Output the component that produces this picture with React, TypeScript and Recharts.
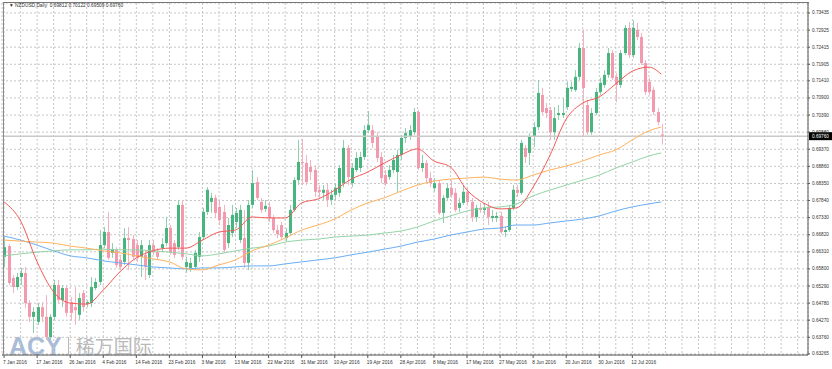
import React from 'react';
import { ComposedChart, Bar, Line, XAxis, YAxis, CartesianGrid, ReferenceLine } from 'recharts';

// NZDUSD daily candles (bar index 0 = 7 Jan 2016)
const opens = [
  0.6616, 0.6648, 0.6553, 0.6526, 0.6556, 0.6568, 0.6478, 0.6437, 0.6422, 0.6466,
  0.6437, 0.6377, 0.6437, 0.6532, 0.6487, 0.6523, 0.6481, 0.6466, 0.6443, 0.6508,
  0.6476, 0.6478, 0.6523, 0.6541, 0.6651, 0.6690, 0.6628, 0.6637, 0.6607, 0.6601,
  0.6672, 0.6669, 0.6651, 0.6616, 0.6622, 0.6562, 0.6651, 0.6630, 0.6642, 0.6657,
  0.6702, 0.6657, 0.6645, 0.6771, 0.6586, 0.6583, 0.6586, 0.6616, 0.6675, 0.6750,
  0.6780, 0.6792, 0.6765, 0.6750, 0.6657, 0.6687, 0.6720, 0.6666, 0.6672, 0.6598,
  0.6771, 0.6839, 0.6780, 0.6759, 0.6765, 0.6732, 0.6696, 0.6711, 0.6672, 0.6687,
  0.6756, 0.6845, 0.6899, 0.6896, 0.6884, 0.6875, 0.6816, 0.6807, 0.6816, 0.6786,
  0.6801, 0.6807, 0.6836, 0.6941, 0.6836, 0.6875, 0.6881, 0.6914, 0.6994, 0.6994,
  0.6974, 0.6914, 0.6860, 0.6854, 0.6875, 0.6869, 0.6920, 0.6971, 0.6974, 0.6988,
  0.7048, 0.6881, 0.6896, 0.6851, 0.6821, 0.6836, 0.6747, 0.6792, 0.6821, 0.6807,
  0.6762, 0.6777, 0.6810, 0.6780, 0.6735, 0.6762, 0.6756, 0.6765, 0.6732, 0.6732,
  0.6738, 0.6690, 0.6696, 0.6762, 0.6816, 0.6807, 0.6941, 0.6926, 0.6974, 0.7003,
  0.7099, 0.7060, 0.7054, 0.6988, 0.7039, 0.7039, 0.7063, 0.7117, 0.7114, 0.7153,
  0.7239, 0.7069, 0.6988, 0.7045, 0.7108, 0.7129, 0.7159, 0.7224, 0.7153, 0.7129,
  0.7224, 0.7299, 0.7218, 0.7293, 0.7272, 0.7194, 0.7138, 0.7114, 0.7048, 0.69812,
];
const highs = [
  0.6675, 0.6654, 0.6562, 0.6568, 0.6583, 0.6586, 0.6487, 0.6466, 0.6478, 0.6481,
  0.6502, 0.6445, 0.6547, 0.6547, 0.6532, 0.6532, 0.6496, 0.6526, 0.6508, 0.6517,
  0.6487, 0.6556, 0.6553, 0.6696, 0.6705, 0.6750, 0.6657, 0.6645, 0.6622, 0.6702,
  0.6705, 0.6681, 0.6666, 0.6666, 0.6636, 0.6666, 0.6666, 0.6642, 0.6672, 0.6735,
  0.6711, 0.6666, 0.6786, 0.6786, 0.6616, 0.6613, 0.6637, 0.6690, 0.6762, 0.6824,
  0.6807, 0.6801, 0.6786, 0.6771, 0.6732, 0.6771, 0.6762, 0.6771, 0.6756, 0.6786,
  0.6875, 0.6854, 0.6792, 0.6786, 0.6780, 0.6741, 0.6711, 0.6720, 0.6702, 0.6771,
  0.6854, 0.6965, 0.6968, 0.6920, 0.6905, 0.6890, 0.6830, 0.6830, 0.6836, 0.6816,
  0.6836, 0.6890, 0.6965, 0.6950, 0.6896, 0.6929, 0.6929, 0.7009, 0.7051, 0.7009,
  0.6988, 0.6929, 0.6875, 0.6890, 0.6920, 0.6935, 0.6980, 0.7000, 0.7009, 0.7060,
  0.7054, 0.6920, 0.6905, 0.6869, 0.6851, 0.6845, 0.6801, 0.6836, 0.6845, 0.6821,
  0.6792, 0.6830, 0.6824, 0.6792, 0.6771, 0.6777, 0.6777, 0.6780, 0.6756, 0.6750,
  0.6750, 0.6705, 0.6771, 0.6830, 0.6830, 0.6965, 0.6950, 0.6985, 0.7018, 0.7144,
  0.7120, 0.7075, 0.7063, 0.7063, 0.7069, 0.7090, 0.7138, 0.7138, 0.7173, 0.7254,
  0.7293, 0.7084, 0.7060, 0.7120, 0.7150, 0.7173, 0.7239, 0.7233, 0.7164, 0.7233,
  0.7308, 0.7317, 0.7322, 0.7314, 0.7284, 0.7203, 0.7150, 0.7123, 0.7060, 0.70122,
];
const lows = [
  0.6586, 0.6532, 0.6508, 0.6517, 0.6532, 0.6463, 0.6422, 0.6389, 0.6413, 0.6422,
  0.6368, 0.6368, 0.6428, 0.6478, 0.6466, 0.6437, 0.6428, 0.6413, 0.6428, 0.6452,
  0.6466, 0.6466, 0.6517, 0.6532, 0.6642, 0.6607, 0.6613, 0.6583, 0.6577, 0.6592,
  0.6577, 0.6607, 0.6601, 0.6556, 0.6547, 0.6553, 0.6622, 0.6607, 0.6630, 0.6648,
  0.6622, 0.6613, 0.6637, 0.6607, 0.6568, 0.6571, 0.6577, 0.6601, 0.6666, 0.6741,
  0.6747, 0.6732, 0.6711, 0.6628, 0.6642, 0.6675, 0.6702, 0.6657, 0.6583, 0.6577,
  0.6762, 0.6786, 0.6747, 0.6750, 0.6720, 0.6687, 0.6672, 0.6666, 0.6663, 0.6678,
  0.6750, 0.6830, 0.6830, 0.6830, 0.6845, 0.6795, 0.6792, 0.6786, 0.6765, 0.6771,
  0.6786, 0.6795, 0.6824, 0.6830, 0.6824, 0.6869, 0.6869, 0.6905, 0.6985, 0.6941,
  0.6899, 0.6836, 0.6827, 0.6845, 0.6866, 0.6810, 0.6905, 0.6956, 0.6965, 0.6980,
  0.6875, 0.6869, 0.6839, 0.6824, 0.6810, 0.6741, 0.6717, 0.6786, 0.6792, 0.6750,
  0.6750, 0.6771, 0.6768, 0.6720, 0.6720, 0.6747, 0.6741, 0.6711, 0.6720, 0.6720,
  0.6684, 0.6675, 0.6690, 0.6756, 0.6795, 0.6801, 0.6896, 0.6890, 0.6944, 0.6994,
  0.7039, 0.7030, 0.6965, 0.6965, 0.7024, 0.7030, 0.7054, 0.7108, 0.7108, 0.7144,
  0.6974, 0.6980, 0.6980, 0.7039, 0.7099, 0.7120, 0.7150, 0.7144, 0.7078, 0.7120,
  0.7218, 0.7209, 0.7209, 0.7263, 0.7188, 0.7099, 0.7099, 0.7039, 0.7009, 0.69509,
];
const closes = [
  0.6645, 0.6538, 0.6526, 0.6556, 0.6568, 0.6478, 0.6437, 0.6452, 0.6466, 0.6437,
  0.6377, 0.6437, 0.6532, 0.6487, 0.6523, 0.6449, 0.6449, 0.6457, 0.6493, 0.6466,
  0.6481, 0.6526, 0.6541, 0.6651, 0.6690, 0.6613, 0.6639, 0.6592, 0.6586, 0.6672,
  0.6666, 0.6616, 0.6613, 0.6651, 0.6586, 0.6651, 0.6630, 0.6616, 0.6654, 0.6702,
  0.6628, 0.6622, 0.6771, 0.6616, 0.6601, 0.6598, 0.6628, 0.6675, 0.6750, 0.6816,
  0.6792, 0.6747, 0.6726, 0.6637, 0.6711, 0.6741, 0.6747, 0.6756, 0.6598, 0.6771,
  0.6836, 0.6792, 0.6756, 0.6768, 0.6732, 0.6696, 0.6684, 0.6675, 0.6687, 0.6756,
  0.6845, 0.6899, 0.6896, 0.6839, 0.6869, 0.6810, 0.6810, 0.6816, 0.6786, 0.6801,
  0.6822, 0.6881, 0.6941, 0.6854, 0.6881, 0.6911, 0.6914, 0.6994, 0.7009, 0.6956,
  0.6911, 0.6851, 0.6836, 0.6875, 0.6905, 0.6920, 0.6971, 0.6985, 0.6994, 0.7048,
  0.6881, 0.6896, 0.6851, 0.6836, 0.6836, 0.6747, 0.6792, 0.6821, 0.6801, 0.6756,
  0.6777, 0.6810, 0.6780, 0.6735, 0.6762, 0.6756, 0.6762, 0.6735, 0.6738, 0.6738,
  0.6690, 0.6696, 0.6762, 0.6816, 0.6807, 0.6956, 0.6914, 0.6974, 0.7003, 0.7105,
  0.7048, 0.7045, 0.6988, 0.7030, 0.7045, 0.7045, 0.7120, 0.7123, 0.7153, 0.7239,
  0.7120, 0.6988, 0.7045, 0.7108, 0.7135, 0.7159, 0.7224, 0.7150, 0.7129, 0.7224,
  0.7299, 0.7218, 0.7299, 0.7272, 0.7194, 0.7108, 0.7108, 0.7048, 0.7018, 0.69760,
];

// moving averages at these bars
const maBars = [
  0, 4, 8, 12, 16, 20, 24, 28, 32, 36, 40, 44, 48, 52, 56, 60, 64, 68, 72, 76,
  80, 84, 88, 92, 96, 100, 104, 108, 112, 116, 120, 124, 128, 132, 136, 140, 144, 148, 152, 156, 159,
];
const maRed = [
  0.6780, 0.6723, 0.6601, 0.6511, 0.6478, 0.6475, 0.6517, 0.6571, 0.6613, 0.6634,
  0.6642, 0.6642, 0.6666, 0.6690, 0.6696, 0.6735, 0.6732, 0.6732, 0.6777, 0.6789,
  0.6815, 0.6848, 0.6869, 0.6896, 0.6920, 0.6938, 0.6902, 0.6884, 0.6815, 0.6777,
  0.6759, 0.6762, 0.6824, 0.6917, 0.7027, 0.7075, 0.7093, 0.7132, 0.7170, 0.7182, 0.7161,
];
const maOrange = [
  0.6666, 0.6663, 0.6660, 0.6657, 0.6648, 0.6642, 0.6634, 0.6628, 0.6619, 0.6610,
  0.6601, 0.6580, 0.6577, 0.6592, 0.6607, 0.6634, 0.6651, 0.6672, 0.6696, 0.6711,
  0.6729, 0.6756, 0.6777, 0.6792, 0.6812, 0.6830, 0.6842, 0.6848, 0.6851, 0.6854,
  0.6848, 0.6845, 0.6860, 0.6875, 0.6887, 0.6902, 0.6920, 0.6935, 0.6965, 0.6992, 0.7003,
];
const maGreen = [
  0.6619, 0.6625, 0.6630, 0.6634, 0.6637, 0.6637, 0.6639, 0.6637, 0.6637, 0.6634,
  0.6630, 0.6625, 0.6619, 0.6625, 0.6634, 0.6642, 0.6648, 0.6660, 0.6666, 0.6669,
  0.6675, 0.6678, 0.6681, 0.6687, 0.6693, 0.6705, 0.6723, 0.6738, 0.6753, 0.6762,
  0.6765, 0.6774, 0.6798, 0.6815, 0.6830, 0.6845, 0.6860, 0.6881, 0.6899, 0.6917, 0.6926,
];
const maBlue = [
  0.6678, 0.6666, 0.6651, 0.6634, 0.6619, 0.6613, 0.6604, 0.6598, 0.6592, 0.6586,
  0.6583, 0.6580, 0.6583, 0.6583, 0.6586, 0.6589, 0.6589, 0.6595, 0.6601, 0.6607,
  0.6613, 0.6622, 0.6630, 0.6639, 0.6648, 0.6660, 0.6669, 0.6681, 0.6690, 0.6699,
  0.6702, 0.6711, 0.6711, 0.6717, 0.6723, 0.6729, 0.6738, 0.6753, 0.6765, 0.6774, 0.6780,
];

const dateLabels = [
  '7 Jan 2016', '17 Jan 2016', '26 Jan 2016', '4 Feb 2016', '14 Feb 2016', '23 Feb 2016',
  '3 Mar 2016', '13 Mar 2016', '22 Mar 2016', '31 Mar 2016', '10 Apr 2016', '19 Apr 2016',
  '28 Apr 2016', '8 May 2016', '17 May 2016', '27 May 2016', '8 Jun 2016', '20 Jun 2016',
  '30 Jun 2016', '12 Jul 2016',
];
const priceTicks = [
  0.73435, 0.72925, 0.72415, 0.71905, 0.7141, 0.709, 0.7039, 0.6988, 0.6937, 0.6886,
  0.6835, 0.6784, 0.6733, 0.6682, 0.6631, 0.658, 0.6529, 0.6478, 0.6427, 0.6376, 0.63265,
];
const lastPrice = 0.6976;
const totalSlots = 195; // chart shift leaves empty bars on the right

const rows = Array.from({ length: totalSlots }, (_, i) => {
  const row: any = { i };
  if (i < opens.length) {
    row.o = opens[i];
    row.h = highs[i];
    row.l = lows[i];
    row.c = closes[i];
    row.range = [lows[i], highs[i]];
  }
  const k = maBars.indexOf(i);
  if (k >= 0) {
    row.red = maRed[k];
    row.orange = maOrange[k];
    row.green = maGreen[k];
    row.blue = maBlue[k];
  }
  return row;
});
const xTicks = rows.filter((r) => r.i % 4 === 0 && r.i <= 192).map((r) => r.i);

const FONT = '"Liberation Sans", Arial, sans-serif';

const Candle = (props: any) => {
  const { x, y, width, height, payload } = props;
  if (!payload || payload.o == null) return null;
  const { o, h, l, c } = payload;
  const top = Math.min(y, y + height);
  const bot = Math.max(y, y + height);
  const k = (bot - top) / (h - l);
  const py = (v: number) => top + (h - v) * k;
  const cx = Math.round(x + width / 2) + 0.5;
  const up = c >= o;
  const bt = py(Math.max(o, c));
  const bb = py(Math.min(o, c));
  return (
    <g>
      <line x1={cx} x2={cx} y1={top} y2={bot} stroke={up ? '#8fd0ae' : '#f4b3c1'} strokeWidth={1} />
      <rect
        x={cx - 1.5}
        y={bt}
        width={3}
        height={Math.max(bb - bt, 1)}
        fill={up ? '#48b47e' : '#f39aae'}
      />
    </g>
  );
};

const DateTick = (props: any) => {
  const { x, y, payload } = props;
  const v = payload.value;
  if (v % 8 !== 0 || !dateLabels[v / 8]) return null;
  return (
    <g>
      <line x1={x} x2={x} y1={y} y2={y + 3} stroke="#555" />
      <text x={x - 1} y={y + 7} fontSize={4.8} fontFamily={FONT} fill="#333" textAnchor="start" dominantBaseline="central">
        {dateLabels[v / 8]}
      </text>
    </g>
  );
};

const PriceTick = (props: any) => {
  const { x, y, payload } = props;
  return (
    <g>
      <line x1={x} x2={x + 2} y1={y} y2={y} stroke="#555" />
      <text x={x + 4} y={y} fontSize={4.7} fontFamily={FONT} fill="#333" textAnchor="start" dominantBaseline="central">
        {payload.value.toFixed(5)}
      </text>
    </g>
  );
};

const PriceTag = (props: any) => {
  const vb = props.viewBox || {};
  const x = vb.x + vb.width + 1;
  const y = vb.y;
  return (
    <g>
      <rect x={x} y={y - 4} width={23} height={8} fill="#000" />
      <text x={x + 3} y={y} fontSize={4.7} fontFamily={FONT} fill="#fff" dominantBaseline="central">
        {lastPrice.toFixed(5)}
      </text>
    </g>
  );
};

export default function App() {
  return (
    <div style={{ position: 'absolute', left: 0, top: 0, width: 832, height: 369, background: '#fff', overflow: 'hidden' }}>
      <div style={{ position: 'absolute', left: 9, top: 334, display: 'flex', alignItems: 'flex-start', pointerEvents: 'none' }}>
        <span style={{ fontFamily: FONT, fontWeight: 'bold', fontSize: 25, lineHeight: 1, color: '#a9bcd7' }}>ACY</span>
        <span style={{ width: 1, height: 17, marginTop: 3, background: '#b9b9b9', marginLeft: 6, marginRight: 7 }} />
        <span style={{ fontFamily: '"Noto Sans CJK SC", sans-serif', fontSize: 19, lineHeight: 1, marginTop: 2, color: '#b9b9b9' }}>稀万国际</span>
      </div>
      <ComposedChart width={832} height={369} data={rows} margin={{ top: 3, right: 0, bottom: 0, left: 2 }}>
        <CartesianGrid stroke="#c6c6c6" strokeDasharray="2 2" />
        <XAxis
          dataKey="i"
          type="category"
          ticks={xTicks}
          interval={0}
          height={14}
          tickSize={0}
          tickMargin={0}
          tick={<DateTick />}
          tickLine={false}
          axisLine={{ stroke: '#555' }}
        />
        <YAxis
          orientation="right"
          type="number"
          domain={[0.63232, 0.73733]}
          allowDataOverflow
          ticks={priceTicks}
          interval={0}
          width={24}
          tickSize={0}
          tickMargin={0}
          tick={<PriceTick />}
          tickLine={false}
          axisLine={{ stroke: '#555' }}
        />
        <ReferenceLine y={lastPrice} stroke="#cacaca" strokeWidth={1.5} label={<PriceTag />} />
        <Bar dataKey="range" barSize={3} shape={<Candle />} isAnimationActive={false} />
        <Line dataKey="blue" type="monotone" stroke="#6aaef4" strokeWidth={1} dot={false} connectNulls isAnimationActive={false} />
        <Line dataKey="green" type="monotone" stroke="#94d4a8" strokeWidth={1} dot={false} connectNulls isAnimationActive={false} />
        <Line dataKey="orange" type="monotone" stroke="#ffb25e" strokeWidth={1} dot={false} connectNulls isAnimationActive={false} />
        <Line dataKey="red" type="monotone" stroke="#f25a58" strokeWidth={1} dot={false} connectNulls isAnimationActive={false} />
      </ComposedChart>
      <div style={{ position: 'absolute', left: 3, top: 2, width: 805, height: 353, borderLeft: '1px solid #8a8a8a', borderTop: '1px solid #777', pointerEvents: 'none' }} />
      <div style={{ position: 'absolute', left: 9, top: 3, fontFamily: FONT, fontSize: 4.8, color: '#333', whiteSpace: 'pre', lineHeight: '6px' }}>
        {'▼ NZDUSD,Daily  0.69812 0.70122 0.69509 0.69760'}
      </div>
      <div style={{ position: 'absolute', left: 660, top: 0, fontFamily: FONT, fontSize: 5, color: '#999', lineHeight: '5px' }}>▼</div>
    </div>
  );
}
